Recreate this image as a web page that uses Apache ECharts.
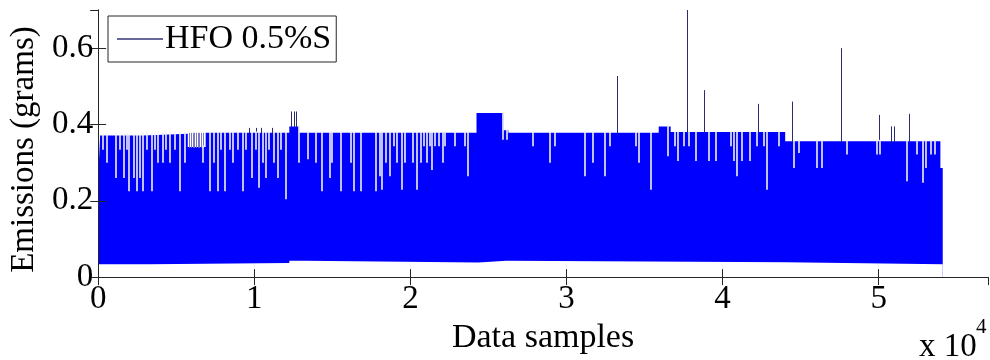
<!DOCTYPE html>
<html>
<head>
<meta charset="utf-8">
<script src="https://cdn.jsdelivr.net/npm/echarts@6/dist/echarts.min.js"></script>
<style>
  html, body { margin: 0; padding: 0; background: #fff; }
  #chart { width: 990px; height: 360px; }
</style>
</head>
<body>
<div id="chart"></div>
<script>
// x ticks (in samples) and their labels, shown as "x 10^4"
const xTickLabels = ['0', '1', '2', '3', '4', '5']
const yTickValues = [0, 0.2, 0.4, 0.6]

// upper edge of the dense band: level holds from start to next start
const topStart = [0, 128, 2870, 5740, 6888, 12245, 12883, 24236, 25958, 26277, 35908, 36673, 44008, 53950]
const topLevel = [0.26, 0.371, 0.376, 0.341, 0.378, 0.395, 0.378, 0.43, 0.385, 0.378, 0.395, 0.38, 0.356, 0.286]
const lastSample = 54100

// lower edge of the band
const lowStart = [0, 3317, 12245, 13203, 24364, 26150, 44008]
const lowLevel = [0.034, 0.037, 0.043, 0.038, 0.043, 0.039, 0.034]

// samples where the peaks stay below the band top
const notchX = [276, 531, 1127, 1382, 1637, 1807, 1977, 2275, 2445, 2658, 2870, 3083, 3402, 3615, 3827,
  4146, 4359, 4614, 4890, 5252, 5529, 6697, 7122, 7377, 7654, 7866, 8079, 8398, 8610, 8929, 9248, 9461,
  9844, 10099, 10269, 10524, 10737, 10950, 11269, 11481, 11694, 12013, 12864, 13458, 13925, 14350, 14818,
  14988, 15520, 16158, 16370, 16795, 17752, 18007, 18178, 18454, 18667, 18922, 19134, 19453, 19666,
  20155, 20410, 20665, 20835, 21048, 21260, 21366, 21579, 21792, 22068, 22217, 22855, 23492, 23705,
  25938, 26150, 27852, 28957, 29233, 31147, 31678, 32422, 32741, 34442, 34655, 35399, 36502, 36927,
  37140, 37480, 37842, 38267, 39117, 39543, 40500, 40712, 40882, 41244, 41733, 42200, 42626, 42838,
  43582, 44539, 44858, 46028, 46347, 47941, 49855, 50068, 51811, 52406, 52789, 53044, 53363, 53576]
const notchY = [0.334, 0.30, 0.26, 0.334, 0.26, 0.334, 0.225, 0.26, 0.225, 0.26, 0.225, 0.334, 0.225, 0.334, 0.30,
  0.30, 0.334, 0.30, 0.334, 0.225, 0.30, 0.30, 0.225, 0.30, 0.225, 0.334, 0.225, 0.334, 0.30, 0.334, 0.225, 0.334,
  0.26, 0.334, 0.234, 0.30, 0.26, 0.334, 0.30, 0.26, 0.334, 0.204, 0.30, 0.309, 0.30, 0.225, 0.26,
  0.30, 0.225, 0.30, 0.225, 0.225, 0.225, 0.264, 0.229, 0.30, 0.264, 0.343, 0.30, 0.229, 0.30,
  0.30, 0.229, 0.30, 0.343, 0.30, 0.343, 0.281, 0.343, 0.343, 0.30, 0.343, 0.343, 0.343, 0.264,
  0.36, 0.36, 0.343, 0.30, 0.343, 0.264, 0.30, 0.264, 0.343, 0.343, 0.30, 0.229, 0.317, 0.343,
  0.304, 0.343, 0.343, 0.304, 0.304, 0.304, 0.343, 0.304, 0.264, 0.304, 0.304, 0.343, 0.343, 0.229,
  0.343, 0.286, 0.325, 0.286, 0.286, 0.321, 0.321, 0.321, 0.251, 0.321, 0.247, 0.286, 0.321, 0.321]

// single peaks above the band
const spikeX = [9674, 10099, 10418, 11162, 12374, 12544, 12714, 33273, 37736, 38799, 42306, 44433, 47622, 50021, 50812, 50978, 51981]
const spikeY = [0.391, 0.391, 0.391, 0.391, 0.434, 0.434, 0.434, 0.527, 0.70, 0.49, 0.454, 0.46, 0.60, 0.425, 0.395, 0.395, 0.428]

// sparse peaks over the lower plateau near 0.6e4
const sparseX = [5840, 5950, 6060, 6170, 6280, 6390, 6500, 6610, 6760]
const sparseY = [0.378, 0.378, 0.378, 0.378, 0.378, 0.378, 0.378, 0.378, 0.378]

const serif = 'Liberation Serif'
const fontSize = 33

function levelAt(starts, levels, x) {
  let v = levels[0]
  for (let i = 0; i < starts.length; i++) {
    if (starts[i] <= x) v = levels[i]
  }
  return v
}

function stepData(starts, levels) {
  const d = starts.map((s, i) => [s, levels[i]])
  d.push([lastSample, levels[levels.length - 1]])
  return d
}

function peakLines(xs, ys) {
  return xs.map((x, i) => [
    { coord: [x, levelAt(topStart, topLevel, x) - 0.002] },
    { coord: [x, ys[i]] }
  ])
}

const notchLines = notchX.map((x, i) => [
  { coord: [x, notchY[i]] },
  { coord: [x, levelAt(topStart, topLevel, x) + 0.004] }
])

const chart = echarts.init(document.getElementById('chart'))

const frameAxis = {
  min: 0,
  axisLine: { show: true, lineStyle: { color: '#262626', width: 1 } },
  axisTick: { show: true, inside: true, length: 8, lineStyle: { color: '#262626' } },
  splitLine: { show: false },
  z: 10
}

const noLabel = { show: false }

chart.setOption({
  animation: false,
  grid: { left: 95, right: 2, top: 10, bottom: 82 },
  legend: {
    left: 108,
    top: 16,
    padding: [6, 5, 6, 9],
    backgroundColor: '#fff',
    borderColor: '#262626',
    borderWidth: 1,
    itemWidth: 46,
    itemHeight: 1.5,
    data: [{ name: 'HFO 0.5%S', icon: 'rect', itemStyle: { color: '#34347a' } }],
    textStyle: { fontFamily: serif, fontSize: 34, color: '#000', padding: [0, 0, 0, -3] }
  },
  xAxis: [
    Object.assign({}, frameAxis, {
      type: 'value',
      position: 'bottom',
      max: 57000,
      interval: 10000,
      name: 'Data samples',
      nameLocation: 'middle',
      nameGap: 40,
      nameTextStyle: { fontFamily: serif, fontSize: 34, color: '#000' },
      axisLabel: {
        margin: 6,
        showMaxLabel: false,
        fontFamily: serif,
        fontSize: fontSize,
        color: '#000',
        formatter: (v) => xTickLabels[Math.round(v / 10000)] ?? ''
      }
    }),
    Object.assign({}, frameAxis, {
      type: 'value',
      position: 'top',
      max: 57000,
      interval: 10000,
      axisLabel: { show: false }
    })
  ],
  yAxis: [
    Object.assign({}, frameAxis, {
      type: 'value',
      position: 'left',
      max: 0.7,
      interval: 0.2,
      name: 'Emissions (grams)',
      nameLocation: 'middle',
      nameGap: 54,
      nameTextStyle: { fontFamily: serif, fontSize: 33, color: '#000', padding: [0, 12, 0, 0] },
      axisLabel: {
        margin: 5,
        showMaxLabel: false,
        fontFamily: serif,
        fontSize: fontSize,
        color: '#000',
        formatter: (v) => (yTickValues.indexOf(Math.round(v * 10) / 10) >= 0 ? String(Math.round(v * 10) / 10) : '')
      }
    }),
    Object.assign({}, frameAxis, {
      type: 'value',
      position: 'right',
      max: 0.7,
      interval: 0.2,
      axisLabel: { show: false }
    })
  ],
  graphic: [
    {
      type: 'text',
      left: 919,
      top: 331,
      style: { text: 'x 10', fontFamily: serif, fontSize: 33, fill: '#000' }
    },
    {
      type: 'text',
      left: 976,
      top: 317,
      style: { text: '4', fontFamily: serif, fontSize: 21, fill: '#000' }
    }
  ],
  series: [
    {
      name: 'HFO 0.5%S',
      type: 'line',
      step: 'end',
      symbol: 'none',
      z: 2,
      data: stepData(topStart, topLevel),
      lineStyle: { width: 0 },
      areaStyle: { color: '#0000ff', opacity: 1 },
      itemStyle: { color: '#0000ff' },
      markLine: {
        silent: true,
        symbol: ['none', 'none'],
        label: noLabel,
        lineStyle: { color: '#2b2b72', width: 1, type: 'solid' },
        data: peakLines(spikeX, spikeY)
      }
    },
    {
      name: 'sparse',
      type: 'line',
      symbol: 'none',
      z: 2,
      data: [],
      markLine: {
        silent: true,
        symbol: ['none', 'none'],
        label: noLabel,
        lineStyle: { color: '#7a7ac8', width: 1, type: 'solid' },
        data: peakLines(sparseX, sparseY)
      }
    },
    {
      name: 'low',
      type: 'line',
      step: 'end',
      symbol: 'none',
      z: 3,
      data: stepData(lowStart, lowLevel),
      lineStyle: { width: 0 },
      areaStyle: { color: '#fff', opacity: 1 },
      markLine: {
        silent: true,
        symbol: ['none', 'none'],
        label: noLabel,
        lineStyle: { color: '#f2f2f8', width: 1.6, type: 'solid' },
        data: notchLines
      }
    }
  ]
})
</script>
</body>
</html>
